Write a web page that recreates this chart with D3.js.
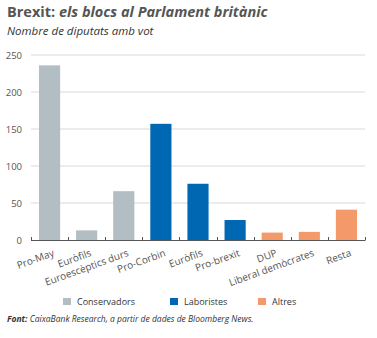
<!DOCTYPE html>
<html>
<head>
<meta charset="utf-8">
<script src="https://cdn.jsdelivr.net/npm/d3@7"></script>
<style>
  html, body { margin: 0; padding: 0; background: #fff; }
  svg { display: block; font-family: "Open Sans", "Noto Sans", sans-serif; }
</style>
</head>
<body>
<svg id="chart" width="377" height="338"></svg>
<script>
// Blocs de diputats i vots
const categories = ["Pro-May", "Euròfils", "Euroescèptics durs", "Pro-Corbin", "Euròfils", "Pro-brexit", "DUP", "Liberal demòcrates", "Resta"];
const values = [236, 13, 66, 157, 76, 27, 10, 11, 41];
const groups = ["Conservadors", "Conservadors", "Conservadors", "Laboristes", "Laboristes", "Laboristes", "Altres", "Altres", "Altres"];
const legendLabels = ["Conservadors", "Laboristes", "Altres"];
const yTicks = [0, 50, 100, 150, 200, 250];

const colors = { "Conservadors": "#b3bec4", "Laboristes": "#0068b3", "Altres": "#f4996a" };

const svg = d3.select("#chart");
const textColor = "#555";

// Títols
const title = svg.append("text").attr("x", 7).attr("y", 17)
  .attr("fill", textColor).attr("font-size", 14.5).attr("font-weight", 700);
title.append("tspan").text("Brexit:");
title.append("tspan").attr("font-style", "italic").text(" els blocs al Parlament britànic");

svg.append("text").attr("x", 7).attr("y", 35)
  .attr("fill", "#333").attr("font-size", 11.5).attr("font-style", "italic")
  .text("Nombre de diputats amb vot");

// Escales
const x = d3.scaleBand().domain(d3.range(categories.length)).range([31, 365]).paddingInner(0.43).paddingOuter(0.215);
const xEdges = d3.scaleLinear().domain([0, categories.length]).range([31, 365]);
const y = d3.scaleLinear().domain([0, 250]).range([240, 55]);

// Línies de graella
svg.append("g")
  .selectAll("line").data(yTicks.filter(d => d > 0)).join("line")
  .attr("x1", 31).attr("x2", 365)
  .attr("y1", d => y(d)).attr("y2", d => y(d))
  .attr("stroke", "#d9d9d9").attr("stroke-width", 1);

// Eix Y
const yAxis = svg.append("g").attr("transform", "translate(31,0)")
  .call(d3.axisLeft(y).tickValues(yTicks).tickSize(0).tickPadding(9));
yAxis.select(".domain").remove();
yAxis.selectAll("text").attr("fill", textColor).attr("font-size", 9.5)
  .attr("font-family", "'Open Sans', sans-serif");

// Barres
svg.append("g")
  .selectAll("rect").data(values).join("rect")
  .attr("x", (d, i) => x(i))
  .attr("width", x.bandwidth())
  .attr("y", d => y(d))
  .attr("height", d => y(0) - y(d))
  .attr("fill", (d, i) => colors[groups[i]]);

// Eix X
svg.append("line").attr("x1", 31).attr("x2", 365).attr("y1", y(0) + 0.5).attr("y2", y(0) + 0.5)
  .attr("stroke", "#555").attr("stroke-width", 1);
svg.append("g").selectAll("line").data(d3.range(categories.length + 1)).join("line")
  .attr("x1", d => Math.round(xEdges(d)) + 0.5).attr("x2", d => Math.round(xEdges(d)) + 0.5)
  .attr("y1", y(0) - 3).attr("y2", y(0) + 0.5)
  .attr("stroke", "#555").attr("stroke-width", 1);

svg.append("g").selectAll("text").data(categories).join("text")
  .attr("transform", (d, i) => `translate(${x(i) + x.bandwidth() / 2 + 3},${y(0) + 9}) rotate(-20)`)
  .attr("text-anchor", "end")
  .attr("dy", "0.71em")
  .attr("fill", textColor).attr("font-size", 10)
  .text(d => d);

// Llegenda
const legendX = [63, 170, 258];
const legend = svg.append("g").selectAll("g").data(legendLabels).join("g")
  .attr("transform", (d, i) => `translate(${legendX[i]},298)`);
legend.append("rect").attr("width", 8).attr("height", 7).attr("fill", d => colors[d]);
legend.append("text").attr("x", 14).attr("y", 6.5)
  .attr("fill", "#333").attr("font-size", 9).text(d => d);

// Font
const src = svg.append("text").attr("x", 7).attr("y", 322)
  .attr("fill", "#333").attr("font-size", 8.5).attr("font-style", "italic");
src.append("tspan").attr("font-weight", 700).text("Font:");
src.append("tspan").text(" CaixaBank Research, a partir de dades de Bloomberg News.");
</script>
</body>
</html>
